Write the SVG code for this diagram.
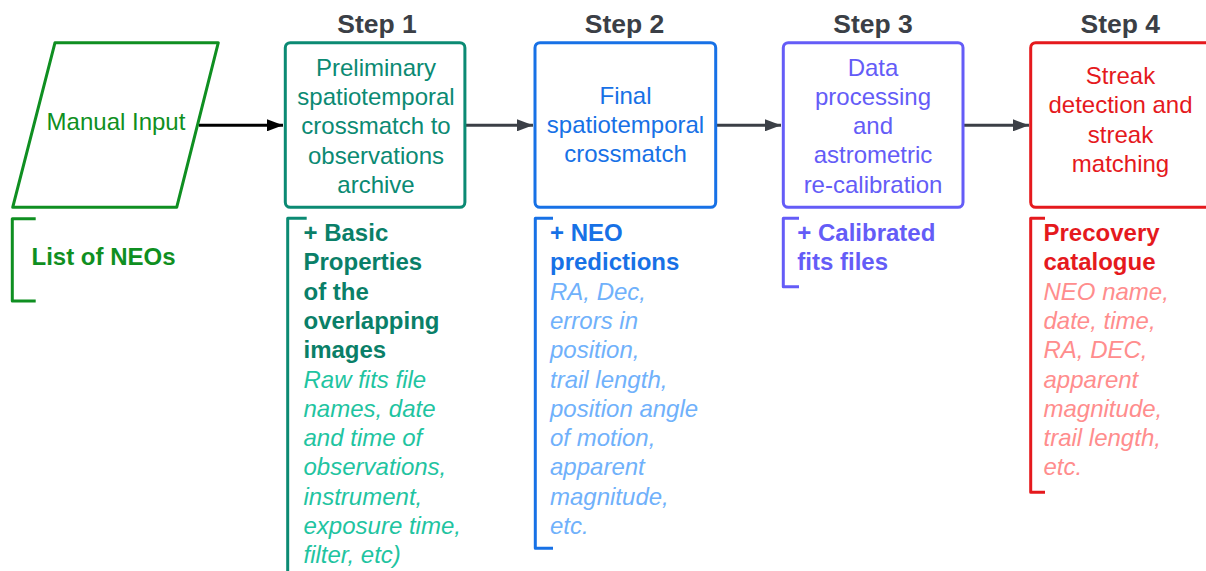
<svg xmlns="http://www.w3.org/2000/svg" width="1206" height="571" viewBox="0 0 1206 571">
<defs>
<style>
text{font-family:"Liberation Sans",Arial,sans-serif;font-size:24px}
.c{text-anchor:middle}
.h{font-weight:bold;font-size:26.5px;fill:#3b3f46}
.b{font-weight:bold}
.i{font-style:italic}
.box{fill:#fff;stroke-width:3}
.br{fill:none;stroke-width:3;stroke-linejoin:round}
.green{fill:#0f8f21}.teal{fill:#0b8a73}.tealb{fill:#0a7f68}.teali{fill:#1fc4a1}
.blue{fill:#1771e6}.bluei{fill:#70b1fb}.purple{fill:#645cf7}.red{fill:#e5191d}.redi{fill:#ff8d8d}
</style>
<marker id="ak" viewBox="0 0 16 12" refX="16" refY="6" markerWidth="16" markerHeight="12" markerUnits="userSpaceOnUse" orient="auto"><path d="M0,0 L16,6 L0,12 Z" fill="#000"/></marker>
<marker id="ag" viewBox="0 0 16 12" refX="16" refY="6" markerWidth="16" markerHeight="12" markerUnits="userSpaceOnUse" orient="auto"><path d="M0,0 L16,6 L0,12 Z" fill="#3b3f46"/></marker>
</defs>
<rect width="1206" height="571" fill="#fff"/>

<g id="connectors" stroke-width="3" fill="none">
<line x1="199" y1="125.3" x2="283" y2="125.3" stroke="#000" marker-end="url(#ak)"/>
<line x1="466" y1="125.3" x2="533" y2="125.3" stroke="#3b3f46" marker-end="url(#ag)"/>
<line x1="716" y1="125.3" x2="781" y2="125.3" stroke="#3b3f46" marker-end="url(#ag)"/>
<line x1="963" y1="125.3" x2="1029" y2="125.3" stroke="#3b3f46" marker-end="url(#ag)"/>
</g>

<g id="manual-input">
<path d="M55,42.7 L218.3,42.7 L176.7,207.3 L12.7,207.3 Z" fill="#fff" stroke="#0f8f21" stroke-width="3" stroke-linejoin="round"/>
<text x="116" y="130" class="c green">Manual Input</text>
</g>
<g id="list-neos">
<path d="M35.7,218.7 H12.3 V301 H35.7" class="br" stroke="#0f8f21"/>
<text x="31.5" y="265" class="b green">List of NEOs</text>
</g>

<g id="step1">
<text x="377" y="32.5" class="c h">Step 1</text>
<rect x="285.3" y="42.7" width="179.6" height="164.6" rx="5" class="box" stroke="#0b8a73"/>
<text class="c teal" x="376"><tspan x="376" y="76">Preliminary</tspan><tspan x="376" y="105.2">spatiotemporal</tspan><tspan x="376" y="134.4">crossmatch to</tspan><tspan x="376" y="163.6">observations</tspan><tspan x="376" y="192.8">archive</tspan></text>
</g>
<g id="step1-output">
<path d="M306.7,218.3 H287.7 V575" class="br" stroke="#0b8a73"/>
<text class="b tealb"><tspan x="303.5" y="241">+ Basic</tspan><tspan x="303.5" y="270.3">Properties</tspan><tspan x="303.5" y="299.6">of the</tspan><tspan x="303.5" y="329">overlapping</tspan><tspan x="303.5" y="358.2">images</tspan></text>
<text class="i teali"><tspan x="303.5" y="387.5">Raw fits file</tspan><tspan x="303.5" y="416.8">names, date</tspan><tspan x="303.5" y="446">and time of</tspan><tspan x="303.5" y="475.4">observations,</tspan><tspan x="303.5" y="504.7">instrument,</tspan><tspan x="303.5" y="534">exposure time,</tspan><tspan x="303.5" y="563.3">filter, etc)</tspan></text>
</g>

<g id="step2">
<text x="624.5" y="32.5" class="c h">Step 2</text>
<rect x="535" y="42.7" width="180.7" height="164.6" rx="5" class="box" stroke="#1771e6"/>
<text class="c blue"><tspan x="625.5" y="103.5">Final</tspan><tspan x="625.5" y="132.7">spatiotemporal</tspan><tspan x="625.5" y="162">crossmatch</tspan></text>
</g>
<g id="step2-output">
<path d="M553,218.3 H535.3 V548.3 H553" class="br" stroke="#1771e6"/>
<text class="b blue"><tspan x="550" y="241">+ NEO</tspan><tspan x="550" y="270.3">predictions</tspan></text>
<text class="i bluei"><tspan x="550" y="299.6">RA, Dec,</tspan><tspan x="550" y="329">errors in</tspan><tspan x="550" y="358.2">position,</tspan><tspan x="550" y="387.5">trail length,</tspan><tspan x="550" y="416.8">position angle</tspan><tspan x="550" y="446">of motion,</tspan><tspan x="550" y="475.4">apparent</tspan><tspan x="550" y="504.7">magnitude,</tspan><tspan x="550" y="534">etc.</tspan></text>
</g>

<g id="step3">
<text x="873" y="32.5" class="c h">Step 3</text>
<rect x="783.3" y="42.7" width="179.7" height="164.6" rx="5" class="box" stroke="#645cf7"/>
<text class="c purple"><tspan x="873" y="75.5">Data</tspan><tspan x="873" y="104.8">processing</tspan><tspan x="873" y="134">and</tspan><tspan x="873" y="163.4">astrometric</tspan><tspan x="873" y="192.7">re-calibration</tspan></text>
</g>
<g id="step3-output">
<path d="M799,218.3 H783.3 V286.7 H799" class="br" stroke="#645cf7"/>
<text class="b purple"><tspan x="797.3" y="241">+ Calibrated</tspan><tspan x="797.3" y="270.3">fits files</tspan></text>
</g>

<g id="step4">
<text x="1120.3" y="32.5" class="c h">Step 4</text>
<rect x="1030.7" y="42.7" width="180" height="164.6" rx="5" class="box" stroke="#e5191d"/>
<text class="c red"><tspan x="1120.5" y="84">Streak</tspan><tspan x="1120.5" y="113.3">detection and</tspan><tspan x="1120.5" y="142.6">streak</tspan><tspan x="1120.5" y="171.9">matching</tspan></text>
</g>
<g id="step4-output">
<path d="M1045,218.3 H1030.7 V492.3 H1045" class="br" stroke="#e5191d"/>
<text class="b red"><tspan x="1043.5" y="241">Precovery</tspan><tspan x="1043.5" y="270.3">catalogue</tspan></text>
<text class="i redi"><tspan x="1043.5" y="299.6">NEO name,</tspan><tspan x="1043.5" y="329">date, time,</tspan><tspan x="1043.5" y="358.2">RA, DEC,</tspan><tspan x="1043.5" y="387.5">apparent</tspan><tspan x="1043.5" y="416.8">magnitude,</tspan><tspan x="1043.5" y="446">trail length,</tspan><tspan x="1043.5" y="475.4">etc.</tspan></text>
</g>
</svg>
